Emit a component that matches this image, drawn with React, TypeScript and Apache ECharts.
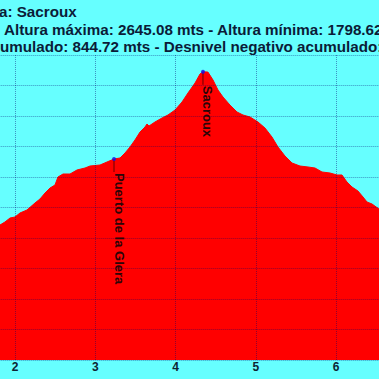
import React, { useEffect, useRef } from "react";
import * as echarts from "echarts";

const distanceKm = [1.7, 1.813, 1.875, 1.938, 2.0, 2.062, 2.149, 2.249, 2.311, 2.374, 2.436, 2.498, 2.535, 2.598, 2.685, 2.772, 2.872, 2.934, 3.059, 3.146, 3.233, 3.308, 3.37, 3.432, 3.494, 3.557, 3.619, 3.644, 3.669, 3.743, 3.831, 3.905, 3.993, 4.08, 4.154, 4.242, 4.304, 4.341, 4.403, 4.466, 4.528, 4.59, 4.677, 4.765, 4.839, 4.927, 5.026, 5.113, 5.2, 5.275, 5.362, 5.45, 5.549, 5.649, 5.736, 5.823, 5.923, 6.01, 6.072, 6.134, 6.197, 6.271, 6.334, 6.384, 6.446, 6.533, 6.65];
const altitudeM = [2125, 2142.6, 2152.5, 2165.6, 2168.9, 2182, 2191.8, 2214.8, 2227.9, 2247.5, 2263.9, 2273.8, 2300, 2309.8, 2309.8, 2323, 2329.5, 2336, 2339.3, 2349.2, 2359, 2362.3, 2378.7, 2398.4, 2421.3, 2447.5, 2463.9, 2473.8, 2467.2, 2480.3, 2493.4, 2503.3, 2519.7, 2545.9, 2575.4, 2608.2, 2637.7, 2645.08, 2644, 2618, 2585.2, 2562.3, 2536, 2513.1, 2503.3, 2496.7, 2480.3, 2460.7, 2431.1, 2398.4, 2368.9, 2345.9, 2336, 2332.8, 2329.5, 2316.4, 2313.1, 2306.6, 2306.6, 2283.6, 2267.2, 2254.1, 2234.4, 2218, 2211.5, 2195, 2178];

const waypointNames = ["Puerto de la Glera", "Sacroux"];
const waypointKm = [3.233, 4.341];
const waypointAlt = [2359, 2645.08];

const titleLines = [
  "a: Sacroux",
  "Altura máxima: 2645.08 mts - Altura mínima: 1798.62 mts",
  "umulado: 844.72 mts - Desnivel negativo acumulado:",
];

const FONT = '"Liberation Sans", Arial, Helvetica, sans-serif';

export default function App() {
  const ref = useRef<HTMLDivElement>(null);
  useEffect(() => {
    if (!ref.current) return;
    const chart = echarts.init(ref.current, null, { renderer: "svg" });
    const profile = distanceKm.map((d, i) => [d, altitudeM[i]]);
    const wp = waypointKm.map((d, i) => [d, waypointAlt[i]]);
    const gridLine = { show: true, lineStyle: { color: "rgba(0,0,110,0.42)", type: "dotted", width: 1 } };
    chart.setOption({
      animation: false,
      backgroundColor: "#66ffff",
      grid: { left: -65.3, right: -37.5, top: 55, bottom: 19, outerBoundsMode: "none", containLabel: false },
      xAxis: {
        type: "value",
        min: 1,
        max: 7,
        interval: 1,
        z: 10,
        axisLine: { show: false },
        axisTick: { show: false },
        splitLine: gridLine,
        axisLabel: {
          color: "#0d2433",
          fontWeight: "bold",
          fontSize: 12,
          fontFamily: FONT,
          margin: 1,
          showMinLabel: false,
          showMaxLabel: false,
        },
      },
      yAxis: {
        type: "value",
        min: 1700,
        max: 2700,
        interval: 100,
        z: 10,
        axisLine: { show: false },
        axisTick: { show: false },
        axisLabel: { show: false },
        splitLine: gridLine,
      },
      series: [
        {
          type: "line",
          data: profile,
          symbol: "none",
          lineStyle: { color: "#ff0000", width: 1 },
          areaStyle: { color: "#ff0000", opacity: 1, origin: "start" },
          z: 2,
        },
        {
          type: "scatter",
          data: wp,
          symbolSize: 4,
          itemStyle: { color: "#1010ee" },
          z: 12,
        },
      ],
    });
    const graphics: any[] = [];
    titleLines.forEach((t, i) => {
      graphics.push({
        type: "text",
        x: [-1, 4, 0][i],
        y: [11, 29, 46][i],
        style: {
          text: t,
          font: `bold 15.2px ${FONT}`,
          fill: "#0b1c38",
          textAlign: "left",
          textVerticalAlign: "middle",
        },
      });
    });
    waypointNames.forEach((name, i) => {
      const p = chart.convertToPixel({ gridIndex: 0 }, [waypointKm[i], waypointAlt[i]]) as number[];
      graphics.push({
        type: "line",
        shape: { x1: p[0], y1: p[1], x2: p[0], y2: p[1] + 13 },
        style: { stroke: "rgba(40,0,0,0.7)", lineWidth: 1 },
        z: 11,
      });
      graphics.push({
        type: "text",
        x: p[0] + 5,
        y: p[1] + 14,
        rotation: -Math.PI / 2,
        style: {
          text: name,
          font: `bold 13px ${FONT}`,
          fill: "#2a0508",
          textAlign: "left",
          textVerticalAlign: "middle",
        },
        z: 11,
      });
    });
    chart.setOption({ graphic: graphics });
    return () => chart.dispose();
  }, []);
  return <div ref={ref} style={{ position: "absolute", left: 0, top: 0, width: 379, height: 379 }} />;
}
